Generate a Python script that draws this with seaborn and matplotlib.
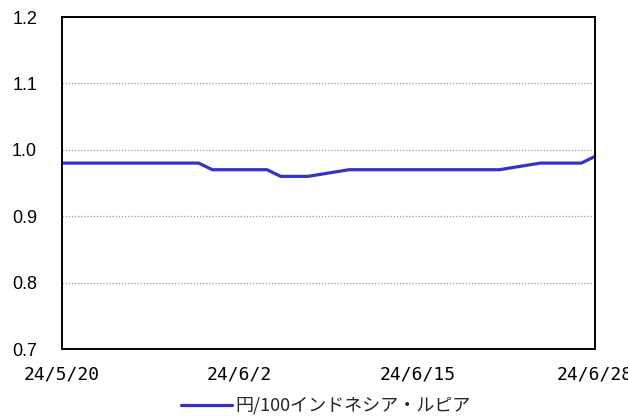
import matplotlib
matplotlib.use("Agg")
import matplotlib.pyplot as plt
import seaborn as sns
import pandas as pd

dates = ["2024-05-20", "2024-05-21", "2024-05-22", "2024-05-23", "2024-05-24",
         "2024-05-27", "2024-05-28", "2024-05-29", "2024-05-30", "2024-05-31",
         "2024-06-03", "2024-06-04", "2024-06-05", "2024-06-06", "2024-06-07",
         "2024-06-10", "2024-06-11", "2024-06-12", "2024-06-13", "2024-06-14",
         "2024-06-17", "2024-06-18", "2024-06-19", "2024-06-20", "2024-06-21",
         "2024-06-24", "2024-06-25", "2024-06-26", "2024-06-27", "2024-06-28"]
values = [0.98, 0.98, 0.98, 0.98, 0.98,
          0.98, 0.98, 0.98, 0.98, 0.97,
          0.97, 0.97, 0.96, 0.96, 0.96,
          0.97, 0.97, 0.97, 0.97, 0.97,
          0.97, 0.97, 0.97, 0.97, 0.97,
          0.98, 0.98, 0.98, 0.98, 0.99]
series_name = "円/100インドネシア・ルピア"
x_ticks = ["2024-05-20", "2024-06-02", "2024-06-15", "2024-06-28"]
y_ticks = [0.7, 0.8, 0.9, 1.0, 1.1, 1.2]

sns.set_theme(style="white")
plt.rcParams['font.family'] = ['Noto Sans CJK JP', 'DejaVu Sans']

df = pd.DataFrame({"date": pd.to_datetime(dates), "value": values, "series": series_name})

fig = plt.figure(figsize=(6.28, 4.16), dpi=100)
ax = fig.add_axes([62/628, 1-349/416, (595-62)/628, (349-17)/416])

sns.lineplot(data=df, x="date", y="value", hue="series", palette=["#3333CC"],
             linewidth=2.3, ax=ax, legend=True)

ax.set_xlim(pd.Timestamp(x_ticks[0]), pd.Timestamp(x_ticks[-1]))
ax.set_ylim(0.7, 1.2)
xt = pd.to_datetime(x_ticks)
ax.set_xticks(xt)
ax.set_xticklabels([f"{d.year % 100}/{d.month}/{d.day}" for d in xt],
                   fontsize=13, family=['DejaVu Sans Mono'])
ax.set_yticks(y_ticks)
ax.set_yticklabels([f"{v:.1f}" for v in y_ticks], fontsize=13, family=['Liberation Sans'])
ax.tick_params(axis='both', direction='in', length=4, width=1, colors='black')
ax.tick_params(axis='y', pad=18)
ax.tick_params(axis='x', pad=12)

for v in y_ticks[1:-1]:
    ax.axhline(v, color='#999999', linestyle=(0, (1, 1.5)), linewidth=0.9, zorder=0)

for s in ax.spines.values():
    s.set_color('black')
    s.set_linewidth(1.4)

ax.set_xlabel("")
ax.set_ylabel("")

handles, labels = ax.get_legend_handles_labels()
ax.legend(handles, labels, loc='center', bbox_to_anchor=((326-62)/533, -(406-349)/332),
          frameon=False, fontsize=13, handlelength=2.8, handletextpad=0.2,
          borderaxespad=0, borderpad=0)

fig.savefig("out.png", dpi=100)
